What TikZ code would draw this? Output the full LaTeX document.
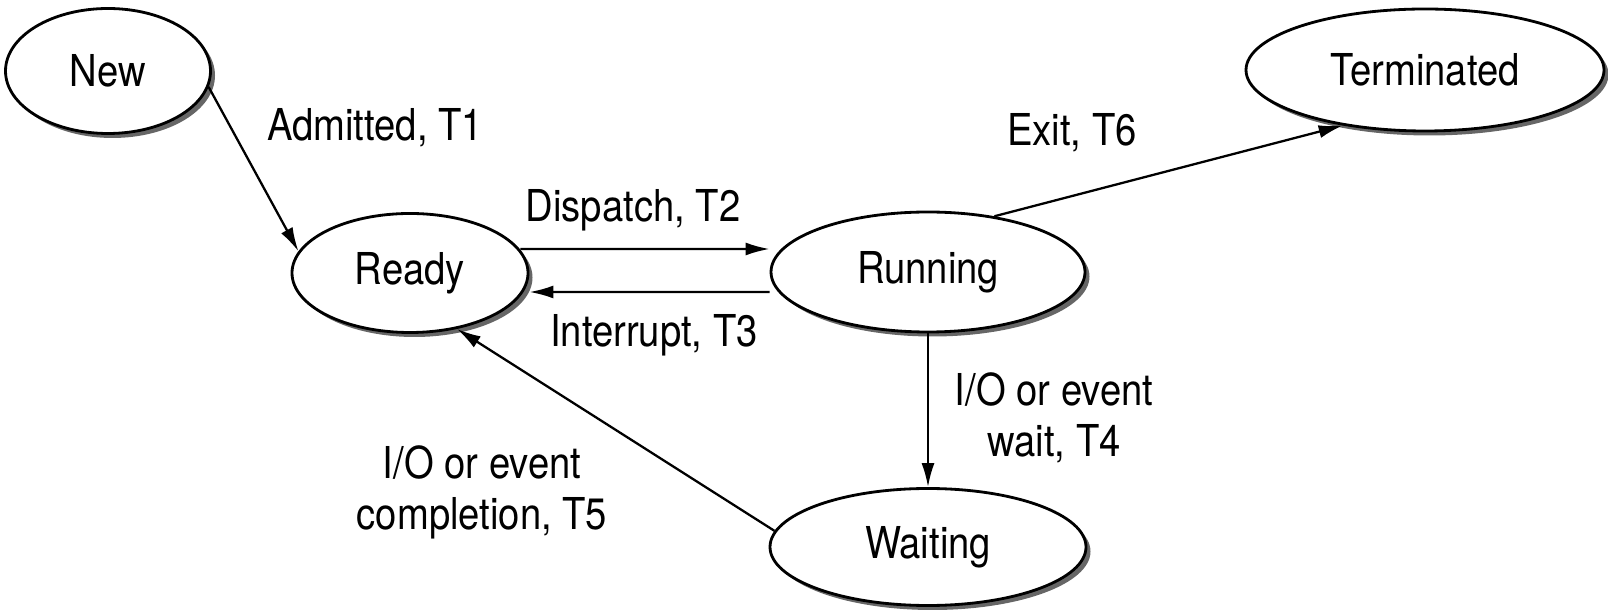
\documentclass[tikz,border=0pt]{standalone}
\usepackage{fontspec}
\setmainfont[FakeStretch=0.87]{TeX Gyre Heros}
\usepackage{tikz}
\usetikzlibrary{arrows.meta, shapes.geometric, shadows, positioning}

\tikzset{
  state/.style={ellipse, draw, line width=0.8pt, fill=white, inner sep=0pt,
    drop shadow={shadow xshift=0.45mm, shadow yshift=-0.45mm, fill=black!60, opacity=1}},
  trans/.style={line width=0.65pt, -{Latex[length=2.4mm,width=1.3mm]}},
  lbl/.style={align=center, inner sep=0pt}
}

\begin{document}
\begin{tikzpicture}[font=\fontsize{12.5}{14.5}\selectfont]
\useasboundingbox (0,0) rectangle (16.08,6.15);
% states
\node[state, minimum width=2.05cm, minimum height=1.25cm] (New) at (1.08,5.44) {New};
\node[state, minimum width=2.36cm, minimum height=1.19cm] (Ready) at (4.10,3.42) {Ready};
\node[state, minimum width=3.14cm, minimum height=1.2cm] (Running) at (9.28,3.43) {Running};
\node[state, minimum width=3.16cm, minimum height=1.17cm] (Waiting) at (9.28,0.68) {Waiting};
\node[state, minimum width=3.58cm, minimum height=1.22cm] (Terminated) at (14.25,5.45) {Terminated};
% transitions
\draw[trans] (New.-9) -- (Ready.169);
\draw[trans] ([xshift=-0.9mm,yshift=2.4mm]Ready.east) -- ([yshift=2.3mm]Running.west);
\draw[trans] ([yshift=-2mm]Running.west) -- ([yshift=-1.9mm]Ready.east);
\draw[trans] (Running.south) -- (Waiting.north);
\draw[trans] (Waiting.174) -- (Ready.-50);
\draw[trans] (Running.40) -- (Terminated.214);
% labels
\node[lbl] (lblAdmit) at (3.75,4.87) {Admitted, T1};
\node[lbl] (lblDispatch) at (6.33,4.05) {Dispatch, T2};
\node[lbl] (lblInterrupt) at (6.54,2.80) {Interrupt, T3};
\node[lbl] (lblWait) at (10.54,1.97) {I/O or event\\wait, T4};
\node[lbl] (lblDone) at (4.82,1.23) {I/O or event\\completion, T5};
\node[lbl] (lblExit) at (10.72,4.82) {Exit, T6};
\end{tikzpicture}
\end{document}
